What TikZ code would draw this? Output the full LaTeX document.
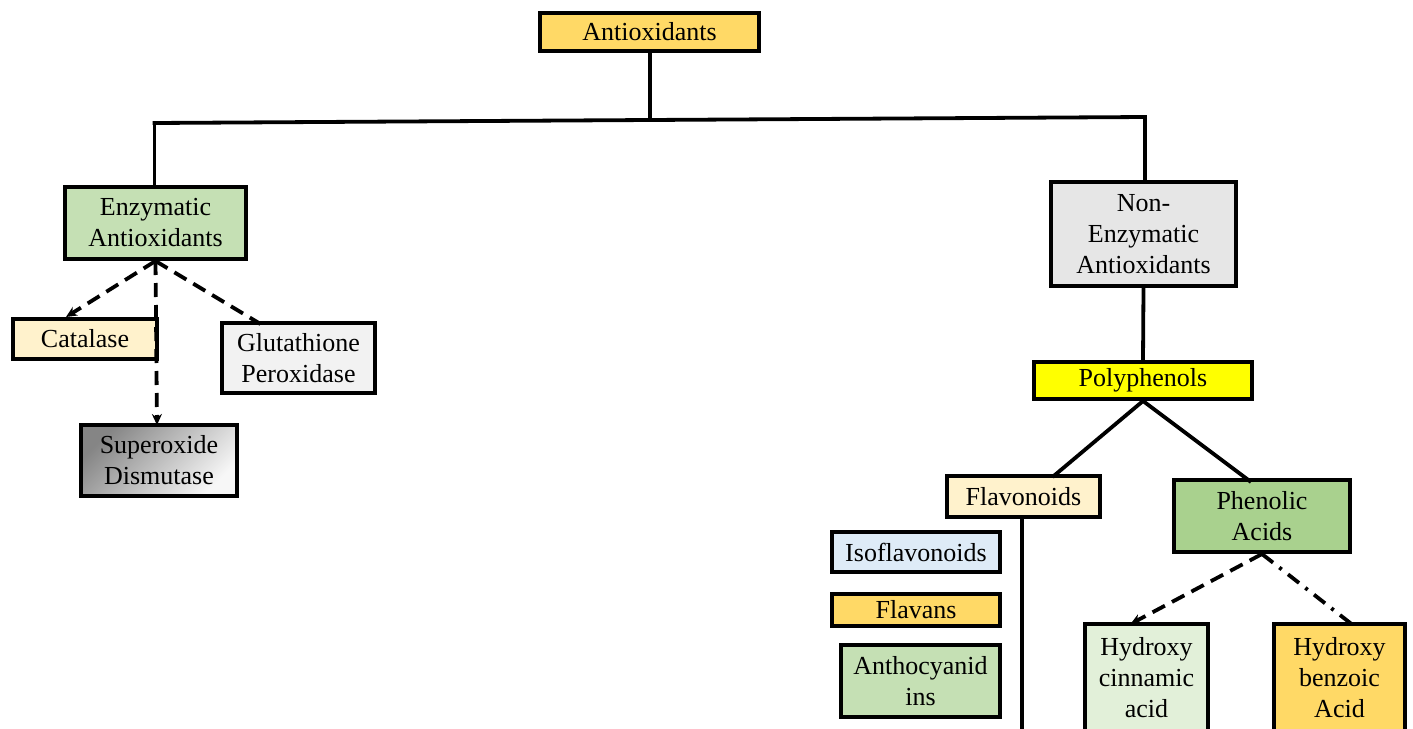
\documentclass[tikz,border=0pt]{standalone}
\usepackage{fontspec}
\setmainfont{Liberation Serif}
\usetikzlibrary{arrows.meta}
\definecolor{gold}{HTML}{FFD966}
\definecolor{leafgreen}{HTML}{C5E0B4}
\definecolor{cream}{HTML}{FFF2CC}
\definecolor{paper}{HTML}{F2F2F2}
\definecolor{stone}{HTML}{E6E6E6}
\definecolor{lemon}{HTML}{FFFF00}
\definecolor{moss}{HTML}{A9D18E}
\definecolor{sky}{HTML}{DEEBF7}
\definecolor{mint}{HTML}{E2F0D9}
\tikzset{
  box/.style={draw=black, line width=4pt, inner sep=0pt, align=center,
    font=\fontsize{26}{31}\selectfont},
  link/.style={line width=3.8pt, draw=black},
  dashlink/.style={line width=3.8pt, draw=black, dash pattern=on 14pt off 8pt},
  dotlink/.style={line width=3.8pt, draw=black, dash pattern=on 14pt off 8pt on 3pt off 8pt},
  tip/.style={-{Stealth[length=11pt,width=10pt]}}
}
\begin{document}
\begin{tikzpicture}[x=1pt,y=-1pt]
\useasboundingbox (0,0) rectangle (1413,728);
\fill[white] (0,0) rectangle (1413,728);
\clip (0,0) rectangle (1413,728);

% top level
\node[box, fill=gold, minimum width=219, minimum height=38] (anti) at (649.5,32) {Antioxidants};

% enzymatic branch
\node[box, fill=leafgreen, minimum width=181, minimum height=72] (enz) at (155.5,223) {Enzymatic\\Antioxidants};
\node[box, fill=cream, minimum width=144, minimum height=40] (cat) at (85,339) {Catalase};
\node[box, fill=paper, minimum width=153, minimum height=70] (glu) at (298.5,358) {Glutathione\\Peroxidase};
\node[box, shading=axis, top color=black!48, bottom color=black!3, shading angle=45,
      minimum width=156, minimum height=71] (sod) at (159,460.5) {Superoxide\\Dismutase};

% non-enzymatic branch
\node[box, fill=stone, minimum width=185, minimum height=104] (non) at (1143.5,234) {Non-\\Enzymatic\\Antioxidants};
\node[box, fill=lemon, minimum width=218, minimum height=37] (poly) at (1143,380.5) {Polyphenols};
\node[box, fill=cream, minimum width=153, minimum height=41] (flav) at (1023.5,496.5) {Flavonoids};
\node[box, fill=moss, minimum width=176, minimum height=72] (phen) at (1262,516) {Phenolic\\Acids};
\node[box, fill=sky, minimum width=168, minimum height=40] (iso) at (916,552) {Isoflavonoids};
\node[box, fill=gold, minimum width=168, minimum height=32] (flavans) at (916,610) {Flavans};
\node[box, fill=leafgreen, minimum width=159, minimum height=72] (antho) at (920.5,681) {Anthocyanid\\ins};
\node[box, fill=mint, minimum width=123, minimum height=108] (hcin) at (1146.5,678) {Hydroxy\\cinnamic\\acid};
\node[box, fill=gold, minimum width=131, minimum height=108] (hben) at (1339.5,678) {Hydroxy\\benzoic\\Acid};

% main bar
\coordinate (bL) at (154.5,123);
\coordinate (bR) at (1145,117);
\coordinate (bM) at (650,120);
\draw[link] (anti.south -| bM) -- (bM);
\draw[link, line cap=rect] (bL) -- (bR);
\draw[link] (bL) -- (bL |- enz.north);
\draw[link] (bR) -- (bR |- non.north);

% enzymatic children
\draw[dashlink, tip] (enz.south) -- ([xshift=-19pt]cat.north);
\draw[dashlink, tip] (enz.south) -- ([xshift=-2pt,yshift=-2pt]sod.north);
\draw[dashlink] (enz.south) -- ([xshift=-38pt,yshift=-3pt]glu.north);

% polyphenol tree
\draw[link] (non.south) -- (poly.north);
\draw[link] (poly.south) -- ([xshift=29pt,yshift=-3pt]flav.north);
\draw[link] (poly.south) -- ([xshift=-11pt,yshift=-4pt]phen.north);
\coordinate (flavEnd) at (1022,740);
\draw[link] (flav.south -| flavEnd) -- (flavEnd);

% phenolic acid children
\draw[dashlink, tip] (phen.south) -- ([xshift=-16pt,yshift=-2pt]hcin.north);
\draw[dotlink] (phen.south) -- ([xshift=12pt,yshift=-2pt]hben.north);
\end{tikzpicture}
\end{document}
